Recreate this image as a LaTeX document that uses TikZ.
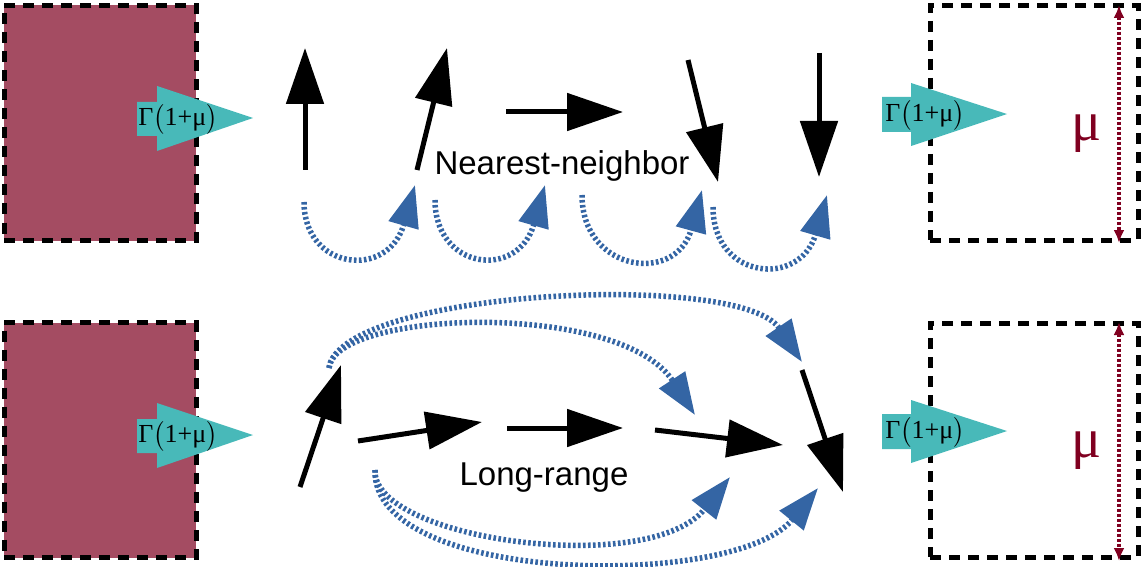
\documentclass[tikz,border=0pt]{standalone}
\usepackage{amsmath}
\usepackage{fontspec}
\newfontfamily\labelfont{Liberation Sans}
\newfontfamily\grk{Liberation Serif}
\usetikzlibrary{arrows.meta}
\definecolor{resv}{RGB}{164,76,98}
\definecolor{ratecol}{RGB}{72,185,185}
\definecolor{hopcol}{RGB}{52,101,164}
\definecolor{mucol}{RGB}{128,0,32}

\begin{document}
\begin{tikzpicture}[x=1pt,y=-1pt,
  bath/.style={draw,line width=5pt,dash pattern=on 11pt off 8pt,inner sep=0pt},
  spin/.style={line width=5pt,-{Triangle[length=56pt,width=37pt]}},
  hop/.style={hopcol,line width=5.5pt,dash pattern=on 2.6pt off 2.4pt,-{Triangle[length=42pt,width=30pt]}},
  rate/.style={fill=ratecol},
  ratelbl/.style={font=\grk\fontsize{26}{30}\selectfont,inner sep=0pt},
  murange/.style={mucol,line width=4pt,dash pattern=on 3pt off 2pt,{Latex[length=13pt,width=11pt]}-{Latex[length=13pt,width=11pt]}},
  mulbl/.style={mucol,font=\grk\fontsize{56}{60}\selectfont,inner sep=0pt},
  txt/.style={font=\labelfont\fontsize{33}{40}\selectfont,anchor=base,inner sep=0pt}]
\useasboundingbox (0,0) rectangle (1144,567);
% reservoirs
\node[bath,fill=resv,minimum width=192pt,minimum height=235pt](resTL) at (100,123){};
\node[bath,fill=resv,minimum width=192pt,minimum height=235pt](resBL) at (100,440){};
\node[bath,minimum width=208pt,minimum height=234pt](resTR) at (1034,123){};
\node[bath,minimum width=208pt,minimum height=234pt](resBR) at (1034,440){};
% injection / extraction rates
\fill[rate] (137,102) -- (157,102) -- (157,86) -- (253,118) -- (157,151) -- (157,136) -- (137,136) -- cycle;
\node[ratelbl](rateTL) at (178,119){Γ$\bigl($1+μ$\bigr)$};
\fill[rate] (882,97) -- (911,97) -- (911,83) -- (1007,114) -- (911,146) -- (911,132) -- (882,132) -- cycle;
\node[ratelbl](rateTR) at (925,115){Γ$\bigl($1+μ$\bigr)$};
\fill[rate] (137,419) -- (157,419) -- (157,403) -- (253,435) -- (157,468) -- (157,453) -- (137,453) -- cycle;
\node[ratelbl](rateBL) at (178,436){Γ$\bigl($1+μ$\bigr)$};
\fill[rate] (882,414) -- (911,414) -- (911,400) -- (1007,431) -- (911,463) -- (911,449) -- (882,449) -- cycle;
\node[ratelbl](rateBR) at (925,432){Γ$\bigl($1+μ$\bigr)$};
% chemical potential
\draw[murange] (1119,5) -- (1119,243);
\node[mulbl](muT) at (1087,134){μ};
\draw[murange] (1119,322) -- (1119,561);
\node[mulbl](muB) at (1087,451){μ};
% spins, nearest-neighbor chain
\draw[spin] (305,170) -- (305,48);
\draw[spin] (417,170) -- (447,48);
\draw[spin] (506,112) -- (623,112);
\draw[spin] (688,60) -- (718,182);
\draw[spin] (819,53) -- (819,177);
\node[txt](nn) at (562,175){Nearest-neighbor};
\draw[hop] (304,202) .. controls (304,270) and (388,280) .. (415,185);
\draw[hop] (435,200) .. controls (435,270) and (518,280) .. (545,185);
\draw[hop] (582,195) .. controls (582,272) and (676,285) .. (702,190);
\draw[hop] (713,207) .. controls (713,280) and (800,288) .. (827,195);
% spins, long-range chain
\draw[spin] (300,487) -- (341,365);
\draw[spin] (358,441) -- (482,422);
\draw[spin] (507,428) -- (623,428);
\draw[spin] (655,430) -- (783,445);
\draw[spin] (802,370) -- (843,492);
\node[txt](lr) at (544,485){Long-range};
\draw[hop] (329,368) .. controls (340,290) and (740,270) .. (802,362);
\draw[hop] (329,368) .. controls (335,310) and (620,300) .. (695,415);
\draw[hop] (375,470) .. controls (372,540) and (650,578) .. (730,477);
\draw[hop] (375,470) .. controls (372,585) and (735,590) .. (818,488);
\end{tikzpicture}
\end{document}
